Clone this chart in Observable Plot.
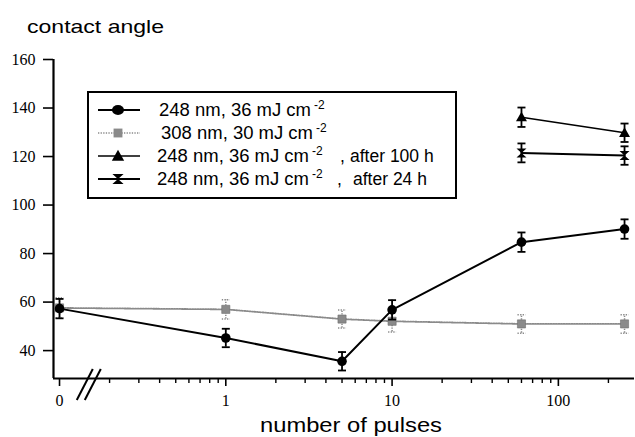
<!DOCTYPE html>
<html><head><meta charset="utf-8">
<script src="https://cdn.jsdelivr.net/npm/d3@7"></script>
<script src="https://cdn.jsdelivr.net/npm/@observablehq/plot@0.6"></script>
<style>
html,body{margin:0;padding:0;background:#fff;}
#chart{width:635px;height:437px;}
</style></head>
<body><div id="chart"></div>
<script>
// ---- data ----
const pulses = [0, 1, 5, 10, 60, 250];
const angle248 = [57.3, 45.2, 35.6, 56.8, 84.7, 90.1];
const err248 = [4.0, 3.8, 3.8, 4.0, 4.0, 4.0];
const angle308 = [57.6, 57.0, 53.0, 52.1, 51.0, 51.0];
const err308 = [4.2, 4.0, 3.7, 4.4, 3.8, 3.8];
const pulsesAged = [60, 250];
const angle100h = [136.2, 129.8];
const err100h = [4.0, 3.8];
const angle24h = [121.5, 120.4];
const err24h = [3.9, 3.8];
const xTickValues = [0, 1, 10, 100];
const xTickLabels = ["0", "1", "10", "100"];
const yTicks = [40, 60, 80, 100, 120, 140, 160];
const legendLabels = ["248 nm, 36 mJ cm", "308 nm, 30 mJ cm", "248 nm, 36 mJ cm", "248 nm, 36 mJ cm"];
const legendSup = "-2";
const legendSuffix = ["", "", "after 100 h", "after 24 h"];
const yTitle = "contact angle";
const xTitle = "number of pulses";

// ---- scale setup ----
const ZERO_AT = 0.1;            // "0" is drawn one decade left of 1 (axis break)
const BREAK_AT = 0.151;
const xDomain = [0.092, 287];
const yDomain = [28.5, 160];
const pos = p => p === 0 ? ZERO_AT : p;
const rows = (xs, ys, es) => xs.map((p, i) => ({x: pos(p), y: ys[i], lo: ys[i] - es[i], hi: ys[i] + es[i]}));

const s248 = rows(pulses, angle248, err248);
const s308 = rows(pulses, angle308, err308);
const s100 = rows(pulsesAged, angle100h, err100h);
const s24 = rows(pulsesAged, angle24h, err24h);

const minorTicks = [];
for (const dec of [0.1, 1, 10, 100]) for (let k = 2; k <= 9; k++) { const v = +(k * dec).toPrecision(3); if (v < xDomain[1]) minorTicks.push(v); }
const majorTicks = xTickValues.map(pos);

// ---- symbols ----
const rad = size => Math.sqrt(size / Math.PI);
const capSym = {draw(c, s) { const r = rad(s); c.moveTo(-r, 0); c.lineTo(r, 0); }};
const triSym = {draw(c, s) { const r = rad(s); c.moveTo(0, -r); c.lineTo(r, r * 0.75); c.lineTo(-r, r * 0.75); c.closePath(); }};
const bowSym = {draw(c, s) { const r = rad(s); c.moveTo(-r, -r * 0.9); c.lineTo(r, -r * 0.9); c.lineTo(0, 0); c.closePath(); c.moveTo(-r, r * 0.9); c.lineTo(r, r * 0.9); c.lineTo(0, 0); c.closePath(); }};
const circSym = {draw(c, s) { const r = rad(s); c.moveTo(r, 0); c.arc(0, 0, r, 0, 2 * Math.PI); c.closePath(); }};

const GRAY = "#8a8a8a";
const DOT = "1.3 1.3";

function errorMarks(data, stroke, dash, sw) {
  return [
    Plot.ruleX(data, {x: "x", y1: "lo", y2: "hi", stroke, strokeWidth: sw, strokeDasharray: dash}),
    Plot.dot(data, {x: "x", y: "lo", symbol: capSym, r: 4, stroke, strokeWidth: sw, fill: "none", strokeDasharray: dash}),
    Plot.dot(data, {x: "x", y: "hi", symbol: capSym, r: 4, stroke, strokeWidth: sw, fill: "none", strokeDasharray: dash})
  ];
}

const plot = Plot.plot({
  width: 635, height: 437,
  marginLeft: 53, marginRight: 1, marginTop: 59, marginBottom: 59,
  x: {type: "log", domain: xDomain, label: null},
  y: {domain: yDomain, label: null},
  style: {fontFamily: "'Liberation Serif', 'Times New Roman', serif", fontSize: "16px", background: "#fff", color: "#000"},
  marks: [
    Plot.axisY(yTicks, {tickSize: 10, tickPadding: 8, strokeWidth: 1.6, fontSize: 16, tickFormat: d => String(d)}),
    Plot.axisX(minorTicks, {tickSize: 5, strokeWidth: 1.4, tickFormat: () => ""}),
    Plot.axisX(majorTicks, {tickSize: 8, tickPadding: 8, strokeWidth: 1.6, fontSize: 16, tickFormat: d => xTickLabels[majorTicks.indexOf(d)]}),
    Plot.ruleX([xDomain[0]], {stroke: "#000", strokeWidth: 2.2}),
    Plot.ruleY([yDomain[0]], {stroke: "#000", strokeWidth: 2.2}),
    // 308 nm (gray, dotted)
    ...errorMarks(s308, GRAY, DOT, 1.5),
    Plot.line(s308, {x: "x", y: "y", stroke: GRAY, strokeWidth: 1.8, strokeDasharray: DOT}),
    Plot.dot(s308, {x: "x", y: "y", symbol: "square", r: 4.6, fill: GRAY, stroke: "#6f6f6f", strokeWidth: 0.6}),
    // 248 nm
    ...errorMarks(s248, "#000", null, 1.8),
    Plot.line(s248, {x: "x", y: "y", stroke: "#000", strokeWidth: 2}),
    Plot.dot(s248, {x: "x", y: "y", r: 4.8, fill: "#000"}),
    // after 100 h
    ...errorMarks(s100, "#000", null, 1.8),
    Plot.line(s100, {x: "x", y: "y", stroke: "#000", strokeWidth: 1.5}),
    Plot.dot(s100, {x: "x", y: "y", symbol: triSym, r: 5.5, fill: "#000"}),
    // after 24 h
    ...errorMarks(s24, "#000", null, 1.8),
    Plot.line(s24, {x: "x", y: "y", stroke: "#000", strokeWidth: 2}),
    Plot.dot(s24, {x: "x", y: "y", symbol: bowSym, r: 5, fill: "#000"})
  ]
});
document.getElementById("chart").appendChild(plot);

// ---- decorations: axis break, titles, legend ----
const svg = d3.select(plot);
const xs = plot.scale("x"), ys = plot.scale("y");
const bx = xs.apply(BREAK_AT), by = ys.apply(yDomain[0]);
for (const off of [-4, 4]) {
  svg.append("line").attr("x1", bx + off - 8).attr("y1", by + 22).attr("x2", bx + off + 8).attr("y2", by - 9)
    .attr("stroke", "#000").attr("stroke-width", 2);
}
const SANS = "'Liberation Sans', Arial, Helvetica, sans-serif";
const addText = (g, str, x, y, size) => g.append("text").text(str).attr("x", x).attr("y", y)
  .attr("font-family", SANS).attr("font-size", size).attr("text-anchor", "start").attr("fill", "#000");
addText(svg, yTitle, 27, 33, 19).attr("textLength", 137).attr("lengthAdjust", "spacingAndGlyphs");
addText(svg, xTitle, 260, 432, 19.5).attr("textLength", 182).attr("lengthAdjust", "spacingAndGlyphs");

const lg = svg.append("g");
lg.append("rect").attr("x", 88).attr("y", 92).attr("width", 368).attr("height", 106)
  .attr("fill", "#fff").attr("stroke", "#000").attr("stroke-width", 2);
const legendStyle = [
  {stroke: "#000", dash: null, sw: 2, sym: circSym, size: Math.PI * 5 * 5, fill: "#000", sx: 1.2},
  {stroke: GRAY, dash: DOT, sw: 1.6, sym: d3.symbolSquare, size: Math.PI * 5 * 5, fill: GRAY, sx: 1},
  {stroke: "#000", dash: null, sw: 1.5, sym: triSym, size: Math.PI * 6.2 * 6.2, fill: "#000", sx: 1},
  {stroke: "#000", dash: null, sw: 2, sym: bowSym, size: Math.PI * 5.6 * 5.6, fill: "#000", sx: 1}
];
const textX = [159, 161, 157, 157];
legendLabels.forEach((lab, i) => {
  const cy = 110 + i * 23;
  const st = legendStyle[i];
  lg.append("line").attr("x1", 98).attr("x2", 140).attr("y1", cy).attr("y2", cy)
    .attr("stroke", st.stroke).attr("stroke-width", st.sw).attr("stroke-dasharray", st.dash);
  lg.append("path").attr("d", d3.symbol(st.sym, st.size)())
    .attr("transform", `translate(118,${cy}) scale(${st.sx},1)`).attr("fill", st.fill);
  addText(lg, lab, textX[i], cy + 6, 17.5).attr("textLength", 152).attr("lengthAdjust", "spacingAndGlyphs");
  addText(lg, legendSup, textX[i] + 155, cy - 1, 12);
  if (legendSuffix[i]) {
    addText(lg, ",", i === 2 ? 340 : 337, cy + 6, 17.5);
    addText(lg, legendSuffix[i], i === 2 ? 350 : 353, cy + 6, 17.5);
  }
});
</script>
</body></html>
